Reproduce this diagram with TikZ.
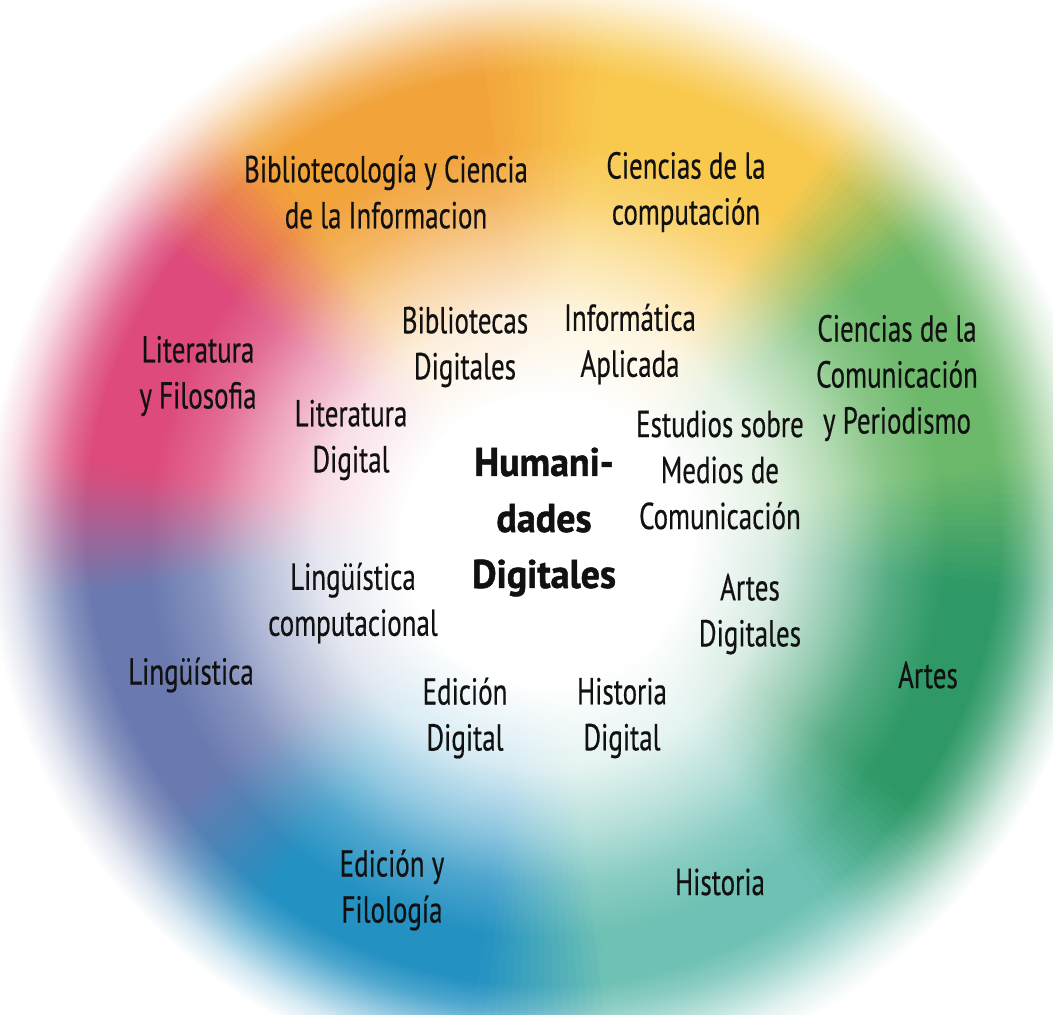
\documentclass[tikz,border=0pt]{standalone}
\usepackage{fontspec}
\setmainfont[FakeStretch=0.72, FakeBold=0.4]{PT Sans}
\newfontfamily\corefont[FakeStretch=0.95, FakeBold=1.2]{PT Sans Bold}
\usetikzlibrary{fadings}
\definecolor{cDgreen}{RGB}{46,153,102}
\definecolor{cTeal}{RGB}{110,193,180}
\definecolor{cBlue}{RGB}{35,145,194}
\definecolor{cSlate}{RGB}{106,122,176}
\definecolor{cPink}{RGB}{221,74,123}
\definecolor{cOrange}{RGB}{242,163,58}
\definecolor{cYellow}{RGB}{249,201,78}
\definecolor{cLgreen}{RGB}{109,185,107}
\definecolor{ink}{RGB}{17,17,17}
\pgfdeclareradialshading{coreshade}{\pgfpointorigin}{color(0bp)=(white); color(145bp)=(white); color(228bp)=(white!82!black); color(292bp)=(white!50!black); color(342bp)=(white!20!black); color(398bp)=(black); color(700bp)=(black)}
\pgfdeclarefading{corefade}{\pgfuseshading{coreshade}}
\pgfdeclareradialshading{rimshade}{\pgfpointorigin}{color(0bp)=(black); color(455bp)=(black); color(480bp)=(white!20!black); color(505bp)=(white!50!black); color(530bp)=(white!80!black); color(555bp)=(white); color(700bp)=(white)}
\pgfdeclarefading{rimfade}{\pgfuseshading{rimshade}}
\tikzset{
  lbl/.style={text=ink, align=center, inner sep=0pt, font=\fontsize{37.5}{46}\selectfont},
  core/.style={text=ink, align=center, inner sep=0pt, font=\corefont\fontsize{40}{56}\selectfont},
}
\begin{document}
\begin{tikzpicture}[x=1pt,y=-1pt]
\useasboundingbox (0,0) rectangle (1053,1015);
\fill[white] (0,0) rectangle (1053,1015);
\coordinate (c) at (543,528);
\def\RR{600}
% solid sector cores (angles clockwise on page, from east)
\foreach \k/\col in {0/cDgreen,1/cTeal,2/cBlue,3/cSlate,4/cPink,5/cOrange,6/cYellow,7/cLgreen}{
  \pgfmathsetmacro{\ta}{45*\k+7.5}
  \pgfmathsetmacro{\tb}{45*\k+37.5}
  \fill[\col] (c) -- ++(\ta:\RR) arc[start angle=\ta, end angle=\tb, radius=\RR] -- cycle;
}
% blends across boundaries
\foreach \k/\ca/\cb in {0/cLgreen/cDgreen,1/cDgreen/cTeal,2/cTeal/cBlue,3/cBlue/cSlate,4/cSlate/cPink,5/cPink/cOrange,6/cOrange/cYellow,7/cYellow/cLgreen}{
  \foreach \i in {0,...,15}{
    \pgfmathsetmacro{\ta}{45*\k-8+\i-0.2}
    \pgfmathsetmacro{\tb}{\ta+1.4}
    \pgfmathtruncatemacro{\p}{(\i+0.5)*100/16}
    \fill[\cb!\p!\ca] (c) -- ++(\ta:\RR) arc[start angle=\ta, end angle=\tb, radius=\RR] -- cycle;
  }
}
% white core
\coordinate (wc) at (546,540);
\fill[white, path fading=corefade, fit fading=false, fading transform={shift={(wc)}}] (wc) circle[radius=560];
% soft rim
\fill[white, path fading=rimfade, fit fading=false, fading transform={shift={(c)}}] (c) circle[radius=680];

% outer labels
\node[lbl] (bib) at (386,192) {Bibliotecología y Ciencia\\de la Informacion};
\node[lbl] (comp) at (686,192) {Ciencias de la\\computación};
\node[lbl] (comu) at (897,378) {Ciencias de la\\Comunicación\\y Periodismo};
\node[lbl] (lit) at (198,376) {Literatura\\y Filosofia};
\node[lbl] (ling) at (191,675) {Lingüística};
\node[lbl] (edf) at (392,890) {Edición y\\Filología};
\node[lbl] (hist) at (720,882) {Historia};
\node[lbl] (artes) at (928,675) {Artes};
% inner labels
\node[lbl] (bd) at (465,347) {Bibliotecas\\Digitales};
\node[lbl] (ia) at (630,344) {Informática\\Aplicada};
\node[lbl] (ld) at (351,440) {Literatura\\Digital};
\node[lbl] (em) at (720,470) {Estudios sobre\\Medios de\\Comunicación};
\node[lbl] (lc) at (353,603) {Lingüística\\computacional};
\node[lbl] (ad) at (750,614) {Artes\\Digitales};
\node[lbl] (ed) at (465,718) {Edición\\Digital};
\node[lbl] (hd) at (622,718) {Historia\\Digital};
% centre
\node[core] (hd0) at (544,522) {Humani-\\dades\\Digitales};
\end{tikzpicture}
\end{document}
